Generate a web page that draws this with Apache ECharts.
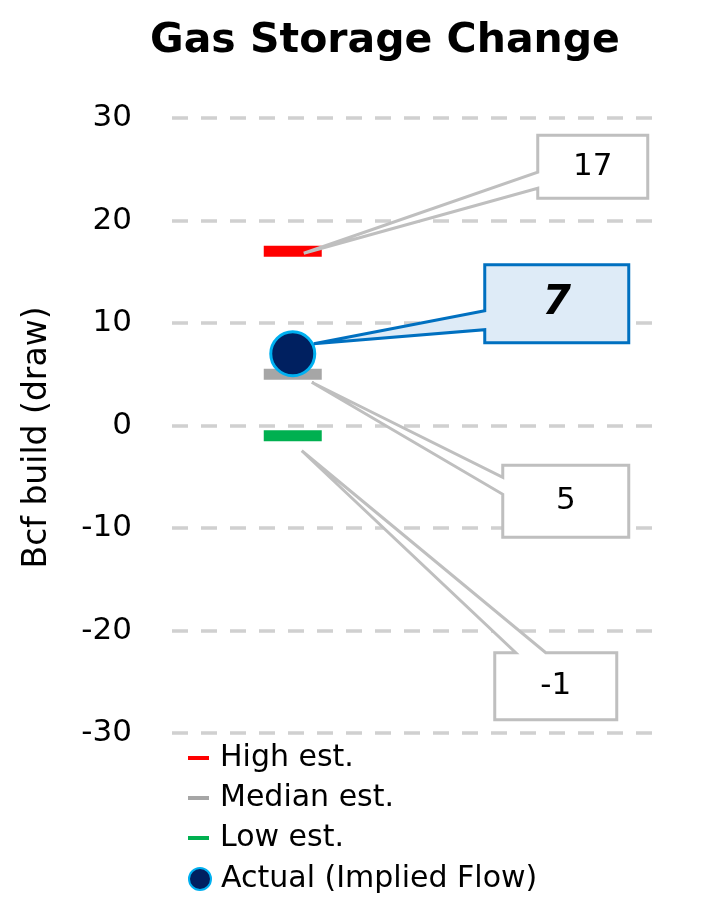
<!DOCTYPE html>
<html>
<head>
<meta charset="utf-8">
<script src="https://cdn.jsdelivr.net/npm/echarts@6/dist/echarts.min.js"></script>
<style>
html,body{margin:0;padding:0;background:#fff;}
#chart{width:705px;height:900px;}
</style>
</head>
<body>
<div id="chart"></div>
<script>
// ---- data ----
const titleText = 'Gas Storage Change';
const yAxisName = 'Bcf build (draw)';
const seriesNames = ['High est.', 'Median est.', 'Low est.', 'Actual (Implied Flow)'];
const highEst = [17];
const medianEst = [5];
const lowEst = [-1];
const actualFlow = [7];
const weekPos = [1];          // position of the single observation on the hidden x scale
const yTicks = [-30, -20, -10, 0, 10, 20, 30];

// ---- styles ----
const FONT = 'DejaVu Sans';
const colors = ['#FF0000', '#A6A6A6', '#00B050', '#002060'];

function pts(vals) { return vals.map((v, i) => [weekPos[i], v]); }

const chart = echarts.init(document.getElementById('chart'), null, { renderer: 'canvas' });

const estSeries = (name, vals, color) => ({
  name, type: 'scatter', data: pts(vals), symbol: 'rect', symbolSize: [58, 11],
  itemStyle: { color, opacity: 1 }, z: 2, silent: true
});

const option = {
  animation: false,
  backgroundColor: '#ffffff',
  title: {
    text: titleText, left: 145, top: 16,
    textStyle: { fontFamily: FONT, fontWeight: 'bold', fontSize: 41, color: '#000' }
  },
  grid: { left: 172, right: 50, top: 118, bottom: 167, containLabel: false },
  xAxis: { type: 'value', min: 0, max: 4, show: false },
  yAxis: {
    type: 'value', min: yTicks[0], max: yTicks[yTicks.length - 1], interval: 10,
    name: yAxisName, nameLocation: 'middle', nameRotate: 90, nameGap: 118,
    nameTextStyle: { fontFamily: FONT, fontSize: 33, color: '#000', padding: [0, 24, 0, 0] },
    axisLine: { show: false }, axisTick: { show: false },
    axisLabel: { fontFamily: FONT, fontSize: 31, color: '#000', margin: 40, padding: [0, 0, 10, 0] },
    splitLine: { show: true, lineStyle: { color: '#D0D0D0', width: 3.5, type: [16, 13] } }
  },
  legend: [
    {
      orient: 'vertical', left: 188, top: 743, padding: 0, itemWidth: 21, itemHeight: 4, itemGap: 10,
      icon: 'rect', selectedMode: false,
      data: seriesNames.slice(0, 3),
      textStyle: { fontFamily: FONT, fontSize: 30, color: '#000', padding: [0, 0, 0, 6] }
    },
    {
      orient: 'vertical', left: 188, top: 864, padding: 0, itemWidth: 22, itemHeight: 22,
      icon: 'circle', selectedMode: false,
      data: [seriesNames[3]],
      textStyle: { fontFamily: FONT, fontSize: 30, color: '#000', padding: [0, 0, 0, 5] }
    }
  ],
  series: [
    estSeries(seriesNames[0], highEst, colors[0]),
    estSeries(seriesNames[1], medianEst, colors[1]),
    estSeries(seriesNames[2], lowEst, colors[2]),
    {
      name: seriesNames[3], type: 'scatter', data: pts(actualFlow), symbol: 'circle', symbolSize: 44,
      itemStyle: { color: colors[3], borderColor: '#00B0F0', borderWidth: 3, opacity: 1 }, z: 3, silent: true
    }
  ]
};
chart.setOption(option);

// ---- callouts (anchored through the chart's own scales) ----
const callouts = [
  { vals: highEst, anchor: [11, 2], box: [245, -116, 110, 63], notch: ['left', 37, 53],
    stroke: '#BFBFBF', fill: '#fff', font: 'normal 31px "DejaVu Sans"' },
  { vals: actualFlow, anchor: [21, -10], box: [192, -89, 144, 78], notch: ['left', 46, 65],
    stroke: '#0070C0', fill: '#DEEBF7', font: 'italic bold 41px "DejaVu Sans"' },
  { vals: medianEst, anchor: [19, 8], box: [210, 91, 126, 72], notch: ['left', 12, 29],
    stroke: '#BFBFBF', fill: '#fff', font: 'normal 31px "DejaVu Sans"' },
  { vals: lowEst, anchor: [9, 15], box: [202, 217, 122, 67], notch: ['top', 21, 51],
    stroke: '#BFBFBF', fill: '#fff', font: 'normal 31px "DejaVu Sans"' }
];

const graphics = [];
callouts.forEach((c) => {
  const p = chart.convertToPixel({ gridIndex: 0 }, [weekPos[0], c.vals[0]]);
  const ax = p[0] + c.anchor[0], ay = p[1] + c.anchor[1];
  const bx = p[0] + c.box[0], by = p[1] + c.box[1], w = c.box[2], h = c.box[3];
  let poly;
  if (c.notch[0] === 'left') {
    poly = [[bx, by], [bx + w, by], [bx + w, by + h], [bx, by + h], [bx, by + c.notch[2]], [ax, ay], [bx, by + c.notch[1]]];
  } else {
    poly = [[bx, by], [bx + c.notch[1], by], [ax, ay], [bx + c.notch[2], by], [bx + w, by], [bx + w, by + h], [bx, by + h]];
  }
  graphics.push({
    type: 'polygon', z: 10, silent: true,
    shape: { points: poly },
    style: { fill: c.fill, stroke: c.stroke, lineWidth: 3, lineJoin: 'miter', miterLimit: 3 }
  });
  graphics.push({
    type: 'text', z: 11, silent: true,
    style: { text: String(c.vals[0]), x: bx + w / 2, y: by + h / 2, align: 'center', verticalAlign: 'middle', font: c.font, fill: '#000' }
  });
});
chart.setOption({ graphic: graphics });
</script>
</body>
</html>
